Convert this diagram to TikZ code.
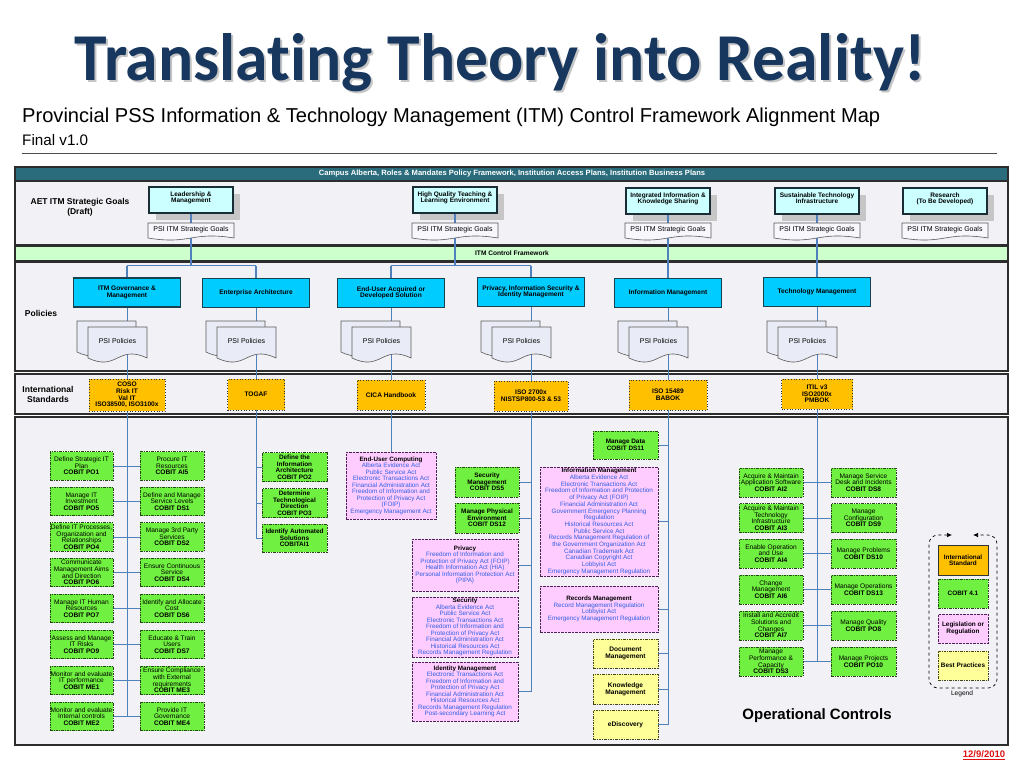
\documentclass[tikz,border=0pt]{standalone}
\usepackage{fontspec}
\setmainfont{Liberation Sans}
\newfontfamily\titlefont[Ligatures=NoCommon]{Carlito}
\usepackage{graphicx}
\usetikzlibrary{shadows,arrows.meta}
\pgfdeclarelayer{bg}
\pgfdeclarelayer{lines}
\pgfsetlayers{bg,lines,main}
\definecolor{titleblue}{RGB}{23,55,94}
\definecolor{hdrteal}{RGB}{42,108,124}
\definecolor{bandgray}{RGB}{242,242,246}
\definecolor{framecol}{RGB}{45,45,45}
\definecolor{cfgreen}{RGB}{204,255,204}
\definecolor{goalfill}{RGB}{204,255,255}
\definecolor{goalborder}{RGB}{25,45,55}
\definecolor{polfill}{RGB}{0,204,255}
\definecolor{polborder}{RGB}{25,65,80}
\definecolor{stdfill}{RGB}{255,192,0}
\definecolor{cobitfill}{RGB}{112,240,64}
\definecolor{cobitborder}{RGB}{35,70,20}
\definecolor{legisfill}{RGB}{255,204,255}
\definecolor{legisborder}{RGB}{80,30,90}
\definecolor{legtext}{RGB}{45,95,225}
\definecolor{bestfill}{RGB}{255,255,153}
\definecolor{bestborder}{RGB}{70,70,20}
\definecolor{linkblue}{RGB}{79,129,189}
\definecolor{docborder}{RGB}{90,90,90}
\definecolor{psifill}{RGB}{233,236,246}
\definecolor{goaldocfill}{RGB}{247,247,252}
\definecolor{datered}{RGB}{220,20,20}
\newcommand\fsz[2]{\fontsize{#1}{#2}\selectfont}
\newcommand\docshape[6]{%
  \path[#1] (#2,#3) -- (#4,#3) -- (#4,#5) .. controls ({(#2+#4)/2},{#5-2*#6}) and ({(#2+#4)/2},{#5+2*#6}) .. (#2,#5) -- cycle;}
\newcommand\psidocs[2]{%
  \docshape{psidoc}{#1-50}{321}{#1+9}{352}{7}
  \docshape{psidoc}{#1-39}{327}{#1+20}{358}{7}
  \node[doctext] (#2) at (#1-9.5,341) {PSI Policies};}
\newcommand\goaldoc[2]{%
  \docshape{goaldoc}{#1-43}{223}{#1+43}{238}{3.5}
  \node[doctext] (#2) at (#1,229.5) {PSI ITM Strategic Goals};}
\tikzset{
  x=1pt,y=-1pt,
  band/.style={fill=bandgray, draw=framecol, line width=1.1pt},
  goalbox/.style={draw=goalborder, fill=goalfill, line width=1.2pt, minimum width=84pt, minimum height=26pt, inner sep=0pt,
    drop shadow={shadow xshift=7pt, shadow yshift=-7pt, fill=gray!45, opacity=1}},
  goallbl/.style={anchor=north, yshift=-5pt, font=\bfseries\fsz{6.5}{6.2}, align=center, inner sep=0pt},
  polbox/.style={draw=polborder, fill=polfill, line width=1.6pt, minimum width=107pt, minimum height=29pt, inner sep=1pt, align=center, font=\bfseries\fsz{6.6}{6.3}},
  psidoc/.style={fill=psifill, draw=docborder, line width=0.6pt},
  goaldoc/.style={fill=goaldocfill, draw=docborder, line width=0.6pt},
  doctext/.style={font=\fsz{7}{7}, inner sep=0pt},
  stdbox/.style={draw=black!80, dotted, fill=stdfill, line width=0.7pt, align=center, font=\bfseries\fsz{6.6}{6.6}, inner sep=0.5pt},
  cobit/.style={draw=cobitborder, fill=cobitfill, dash pattern=on 2.5pt off 1pt on 1pt off 1pt, line width=0.8pt, align=center, font=\fsz{6.6}{6.6}, inner sep=0.3pt, minimum height=28.5pt},
  cobitb/.style={cobit, font=\bfseries\fsz{6.4}{6.5}},
  legis/.style={draw=legisborder, fill=legisfill, dash pattern=on 2.5pt off 1pt, line width=0.8pt, align=center, font=\fsz{6.3}{6.5}, text=legtext, inner sep=0.6pt},
  bestbox/.style={draw=bestborder, fill=bestfill, dash pattern=on 2.5pt off 1pt on 1pt off 1pt, line width=0.8pt, align=center, font=\bfseries\fsz{6.6}{6.6}, minimum width=65pt, minimum height=29pt, inner sep=0.3pt},
  thk/.style={draw=linkblue, line width=1.9pt},
  busline/.style={draw=linkblue, line width=1.2pt},
  thn/.style={draw=linkblue, line width=0.8pt},
  bandlbl/.style={font=\bfseries\fsz{8.5}{10}, align=center},
}
\begin{document}
\begin{tikzpicture}
\useasboundingbox (0,0) rectangle (1024,768);
% ---------- title ----------
\node[anchor=base, inner sep=0pt, text=gray!45] (titleshadow) at (502,82) {\resizebox{850pt}{47pt}{\titlefont\bfseries Translating Theory into Reality!}};
\node[anchor=base, inner sep=0pt, text=titleblue] (title) at (500,80) {\resizebox{850pt}{47pt}{\titlefont\bfseries Translating Theory into Reality!}};
\node[anchor=base west, inner sep=0pt] (sub) at (22,122) {\resizebox{858pt}{!}{Provincial PSS Information \& Technology Management (ITM) Control Framework Alignment Map}};
\node[anchor=base west, inner sep=0pt] (fin) at (22,145) {\resizebox{66pt}{!}{Final v1.0}};
\draw[gray!60!black, line width=0.8pt] (22,153) -- (997,153);
% ---------- bands ----------
\begin{pgfonlayer}{bg}
\path[band] (15,167) rectangle (1008,245);
\path[fill=hdrteal, draw=framecol, line width=1.1pt] (15,167) rectangle (1008,181);
\path[band, fill=cfgreen] (15,246.5) rectangle (1008,261);
\path[band] (15,262.5) rectangle (1008,371);
\path[band] (15,374) rectangle (1008,414);
\path[band] (15,417) rectangle (1008,745);
\end{pgfonlayer}
\node[font=\bfseries\fsz{7.6}{8}, text=white] (hdr) at (512,174) {Campus Alberta, Roles \& Mandates Policy Framework, Institution Access Plans, Institution Business Plans};
\node[font=\bfseries\fsz{6.6}{7}] (itmcf) at (512,253.5) {ITM Control Framework};
\node[bandlbl] (lblgoals) at (80,207) {AET ITM Strategic Goals\\(Draft)};
\node[bandlbl] (lblpol) at (41,313) {Policies};
\node[bandlbl] (lblstd) at (48,394) {International\\Standards};
% ---------- policies ----------
\node[polbox] (p1) at (127,292.5) {ITM Governance \&\\Management};
\node[polbox] (p2) at (256,293) {Enterprise Architecture};
\node[polbox] (p3) at (391,293) {End-User Acquired or\\Developed Solution};
\node[polbox] (p4) at (531,292) {Privacy, Information Security \&\\Identity Management};
\node[polbox] (p5) at (668,293) {Information Management};
\node[polbox] (p6) at (817,292) {Technology Management};
% ---------- goals ----------
\node[goalbox, label={[goallbl]north:{Leadership \&\\Management}}] (g1) at (191,200) {};
\node[goalbox, label={[goallbl]north:{High Quality Teaching \&\\Learning Environment}}] (g2) at (455,200) {};
\node[goalbox, label={[goallbl]north:{Integrated Information \&\\Knowledge Sharing}}] (g3) at (668,201) {};
\node[goalbox, label={[goallbl]north:{Sustainable Technology\\Infrastructure}}] (g4) at (817,201) {};
\node[goalbox, label={[goallbl]north:{Research\\(To Be Developed)}}] (g5) at (945,201) {};
\coordinate (b1) at (191,265.5);
\coordinate (b2) at (455,265.5);
\draw[thk] (g1.south) -- (b1);
\draw[busline] (p1.north |- b1) -- (p2.north |- b1);
\draw[thk] (p1.north |- b1) -- (p1.north);
\draw[thk] (p2.north |- b1) -- (p2.north);
\draw[thk] (g2.south) -- (b2);
\draw[busline] (p3.north |- b2) -- (p4.north |- b2);
\draw[thk] (p3.north |- b2) -- (p3.north);
\draw[thk] (p4.north |- b2) -- (p4.north);
\draw[thk] (g3.south) -- (p5.north);
\draw[thk] (g4.south) -- (p6.north);
\goaldoc{191}{gd1}
\goaldoc{455}{gd2}
\goaldoc{668}{gd3}
\goaldoc{817}{gd4}
\goaldoc{945}{gd5}
% ---------- PSI policies ----------
\psidocs{127}{pd1}
\psidocs{256}{pd2}
\psidocs{391}{pd3}
\psidocs{531}{pd4}
\psidocs{668}{pd5}
\psidocs{817}{pd6}
% ---------- standards ----------
\node[stdbox, minimum width=76pt, minimum height=32pt] (s1) at (127,395) {COSO\\Risk IT\\Val IT\\ISO38500, ISO3100x};
\node[stdbox, minimum width=57pt, minimum height=31pt] (s2) at (256,394.5) {TOGAF};
\node[stdbox, minimum width=68pt, minimum height=30pt] (s3) at (391,395) {CICA Handbook};
\node[stdbox, minimum width=74pt, minimum height=30pt] (s4) at (531,396) {ISO 2700x\\NISTSP800-53 \& 53};
\node[stdbox, minimum width=78pt, minimum height=30pt] (s5) at (668,395) {ISO 15489\\BABOK};
\node[stdbox, minimum width=71pt, minimum height=30pt] (s6) at (817,394) {ITIL v3\\ISO2000x\\PMBOK};
% ---------- column 1 ----------
\node[cobit, minimum width=63pt] (L1) at (81.5,466) {Define Strategic IT\\Plan\\\textbf{COBIT PO1}};
\node[cobit, minimum width=63pt] (L2) at (81.5,501.5) {Manage IT\\Investment\\\textbf{COBIT PO5}};
\node[cobit, minimum width=63pt] (L3) at (81.5,537) {Define IT Processes,\\Organization and\\Relationships\\\textbf{COBIT PO4}};
\node[cobit, minimum width=63pt] (L4) at (81.5,572.5) {Communicate\\Management Aims\\and Direction\\\textbf{COBIT PO6}};
\node[cobit, minimum width=63pt] (L5) at (81.5,608.5) {Manage IT Human\\Resources\\\textbf{COBIT PO7}};
\node[cobit, minimum width=63pt] (L6) at (81.5,644.5) {Assess and Manage\\IT Risks\\\textbf{COBIT PO9}};
\node[cobit, minimum width=63pt] (L7) at (81.5,680.5) {Monitor and evaluate\\IT performance\\\textbf{COBIT ME1}};
\node[cobit, minimum width=63pt] (L8) at (81.5,716.5) {Monitor and evaluate\\Internal controls\\\textbf{COBIT ME2}};
\node[cobit, minimum width=64pt] (R1) at (172,466) {Procure IT\\Resources\\\textbf{COBIT AI5}};
\node[cobit, minimum width=64pt] (R2) at (172,501.5) {Define and Manage\\Service Levels\\\textbf{COBIT DS1}};
\node[cobit, minimum width=64pt] (R3) at (172,537) {Manage 3rd Party\\Services\\\textbf{COBIT DS2}};
\node[cobit, minimum width=64pt] (R4) at (172,572.5) {Ensure Continuous\\Service\\\textbf{COBIT DS4}};
\node[cobit, minimum width=64pt] (R5) at (172,608.5) {Identify and Allocate\\Cost\\\textbf{COBIT DS6}};
\node[cobit, minimum width=64pt] (R6) at (172,644.5) {Educate \& Train\\Users\\\textbf{COBIT DS7}};
\node[cobit, minimum width=64pt] (R7) at (172,680.5) {Ensure Compliance\\with External\\requirements\\\textbf{COBIT ME3}};
\node[cobit, minimum width=64pt] (R8) at (172,716.5) {Provide IT\\Governance\\\textbf{COBIT ME4}};
% ---------- column 2 ----------
\node[cobitb, minimum width=65pt, minimum height=29pt] (E1) at (294.5,467) {Define the\\Information\\Architecture\\COBIT PO2};
\node[cobitb, minimum width=65pt, minimum height=29pt] (E2) at (294.5,503) {Determine\\Technological\\Direction\\COBIT PO3};
\node[cobitb, minimum width=65pt, minimum height=28pt] (E3) at (294.5,538) {Identify Automated\\Solutions\\COBITAI1};
% ---------- column 3 ----------
\node[legis, minimum width=90pt, minimum height=67pt] (eu) at (391,485.5) {\textcolor{black}{\textbf{End-User Computing}}\\Alberta Evidence Act\\Public Service Act\\Electronic Transactions Act\\Financial Administration Act\\Freedom of Information and\\Protection of Privacy Act\\(FOIP)\\Emergency Management Act};
% ---------- column 4 ----------
\node[cobitb, minimum width=64pt, minimum height=30pt] (sm) at (487,482) {Security\\Management\\COBIT DS5};
\node[cobitb, minimum width=64pt, minimum height=30pt] (pe) at (487,518) {Manage Physical\\Environment\\COBIT DS12};
\node[legis, minimum width=106pt, minimum height=52pt] (priv) at (465,565) {\textcolor{black}{\textbf{Privacy}}\\Freedom of Information and\\Protection of Privacy Act (FOIP)\\Health Information Act (HIA)\\Personal Information Protection Act\\(PIPA)};
\node[legis, minimum width=106pt, minimum height=60pt] (sec) at (465,627) {\textcolor{black}{\textbf{Security}}\\Alberta Evidence Act\\Public Service Act\\Electronic Transactions Act\\Freedom of Information and\\Protection of Privacy Act\\Financial Administration Act\\Historical Resources Act\\Records Management Regulation};
\node[legis, minimum width=106pt, minimum height=59pt] (idm) at (465,691.5) {\textcolor{black}{\textbf{Identity Management}}\\Electronic Transactions Act\\Freedom of Information and\\Protection of Privacy Act\\Financial Administration Act\\Historical Resources Act\\Records Management Regulation\\Post-secondary Learning Act};
% ---------- column 5 ----------
\node[cobitb, minimum width=65pt, minimum height=28pt] (md) at (625.5,445) {Manage Data\\COBIT DS11};
\node[legis, font=\fsz{6.3}{6.7}, minimum width=118pt, minimum height=109pt] (imp) at (599,521.5) {\textcolor{black}{\textbf{Information Management}}\\Alberta Evidence Act\\Electronic Transactions Act\\Freedom of Information and Protection\\of Privacy Act (FOIP)\\Financial Administration Act\\Government Emergency Planning\\Regulation\\Historical Resources Act\\Public Service Act\\Records Management Regulation of\\the Government Organization Act\\Canadian Trademark Act\\Canadian Copyright Act\\Lobbyist Act\\Emergency Management Regulation};
\node[legis, minimum width=118pt, minimum height=46pt] (rmp) at (599,609) {\textcolor{black}{\textbf{Records Management}}\\Record Management Regulation\\Lobbyist Act\\Emergency Management Regulation};
\node[bestbox] (dm) at (625.5,653.5) {Document\\Management};
\node[bestbox, minimum height=30pt] (km) at (625.5,689) {Knowledge\\Management};
\node[bestbox] (ed) at (625.5,724.5) {eDiscovery};
% ---------- column 6 ----------
\node[cobit, minimum width=64pt, minimum height=29pt] (A1) at (771,482.5) {Acquire \& Maintain\\Application Software\\\textbf{COBIT AI2}};
\node[cobit, minimum width=64pt, minimum height=29pt] (A2) at (771,518) {Acquire \& Maintain\\Technology\\Infrastructure\\\textbf{COBIT AI3}};
\node[cobit, minimum width=64pt, minimum height=29pt] (A3) at (771,553.5) {Enable Operation\\and Use\\\textbf{COBIT AI4}};
\node[cobit, minimum width=64pt, minimum height=29pt] (A4) at (771,589.5) {Change\\Management\\\textbf{COBIT AI6}};
\node[cobit, minimum width=64pt, minimum height=29pt] (A5) at (771,625.5) {Install and Accredit\\Solutions and\\Changes\\\textbf{COBIT AI7}};
\node[cobit, minimum width=64pt, minimum height=29pt] (A6) at (771,661.5) {Manage\\Performance \&\\Capacity\\\textbf{COBIT DS3}};
\node[cobit, minimum width=65pt, minimum height=29pt] (D1) at (863.5,482.5) {Manage Service\\Desk and Incidents\\\textbf{COBIT DS8}};
\node[cobit, minimum width=65pt, minimum height=29pt] (D2) at (863.5,518) {Manage\\Configuration\\\textbf{COBIT DS9}};
\node[cobit, minimum width=65pt, minimum height=29pt] (D3) at (863.5,553.5) {Manage Problems\\\textbf{COBIT DS10}};
\node[cobit, minimum width=65pt, minimum height=29pt] (D4) at (863.5,589.5) {Manage Operations\\\textbf{COBIT DS13}};
\node[cobit, minimum width=65pt, minimum height=29pt] (D5) at (863.5,625.5) {Manage Quality\\\textbf{COBIT PO8}};
\node[cobit, minimum width=65pt, minimum height=29pt] (D6) at (863.5,661.5) {Manage Projects\\\textbf{COBIT PO10}};
\node[font=\bfseries\fsz{15}{16}] (opc) at (817,716) {Operational Controls};
% ---------- legend ----------
\draw[dashed, line width=0.7pt, rounded corners=9pt, {Latex[length=5pt,width=4.5pt]}-{Latex[length=5pt,width=4.5pt]}]
  (952,535) -- (929,535) -- (929,688) -- (997,688) -- (997,535) -- (973,535);
\node[draw=black!80, fill=stdfill, line width=0.6pt, align=center, font=\bfseries\fsz{6.4}{6.4}, minimum width=50pt, minimum height=30pt, inner sep=0.3pt] (lg1) at (963,560) {International\\Standard};
\node[cobitb, minimum width=50pt, minimum height=29pt] (lg2) at (963,593.5) {COBIT 4.1};
\node[legis, text=black, font=\bfseries\fsz{6.4}{6.4}, minimum width=50pt, minimum height=29pt] (lg3) at (963,628.5) {Legislation or\\Regulation};
\node[bestbox, minimum width=50pt, font=\bfseries\fsz{6.4}{6.4}] (lg4) at (963,665.5) {Best Practices};
\node[font=\fsz{6.6}{7}] (lgt) at (962,694) {Legend};
\node[font=\bfseries\fsz{9.5}{10}, text=datered] (date) at (984,755) {\underline{12/9/2010}};
% ---------- thin connectors ----------
\begin{pgfonlayer}{lines}
\draw[thn] (p1.south) -- (p1.south |- L8.east);
\foreach \i in {1,...,8} { \draw[thn] (L\i.east) -- (R\i.west); }
\draw[thn] (p2.south) -- (p2.south |- E3.west);
\foreach \n in {E1,E2,E3} { \draw[thn] (\n.west) -- (\n.west -| p2.south); }
\draw[thn] (p3.south) -- (eu.north);
\draw[thn] (p4.south) -- (p4.south |- idm.east);
\foreach \n in {sm,pe,priv,sec,idm} { \draw[thn] (\n.east) -- (\n.east -| p4.south); }
\draw[thn] (p5.south) -- (p5.south |- ed.east);
\foreach \n in {md,imp,rmp,dm,km,ed} { \draw[thn] (\n.east) -- (\n.east -| p5.south); }
\draw[thn] (p6.south) -- (p6.south |- A6.east);
\foreach \i in {1,...,6} { \draw[thn] (A\i.east) -- (D\i.west); }
\end{pgfonlayer}
\end{tikzpicture}
\end{document}
